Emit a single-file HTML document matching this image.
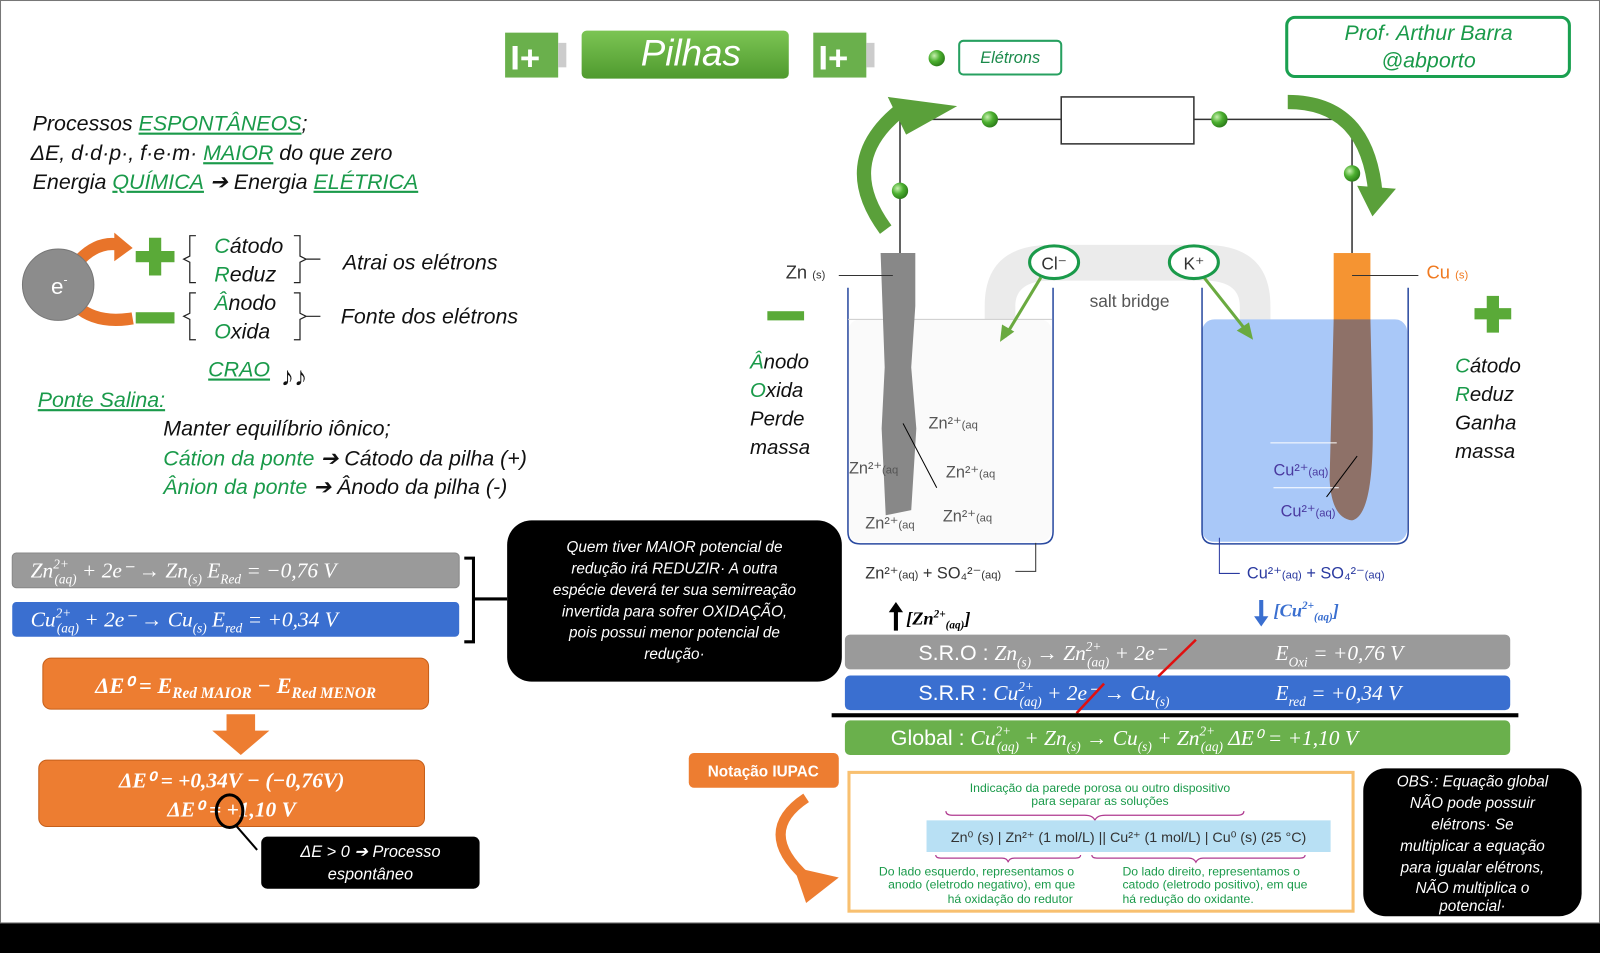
<!DOCTYPE html>
<html><head><meta charset="utf-8"><style>
html,body{margin:0;padding:0;background:#fff}
svg{display:block}
.h{font-family:"Liberation Sans",sans-serif;font-style:italic}
.m{font-family:"Liberation Serif",serif;font-style:italic}
.s{font-family:"Liberation Sans",sans-serif}
</style></head><body>
<svg width="1600" height="953" viewBox="0 0 1568 934" preserveAspectRatio="none" xmlns="http://www.w3.org/2000/svg">
<defs>
<radialGradient id="gd" cx="0.35" cy="0.35" r="0.7"><stop offset="0" stop-color="#c8f0b0"/><stop offset="0.5" stop-color="#4cb030"/><stop offset="1" stop-color="#2a7a18"/></radialGradient>
<linearGradient id="gg" x1="0" y1="0" x2="0" y2="1"><stop offset="0" stop-color="#7cc554"/><stop offset="1" stop-color="#4f9a2e"/></linearGradient>
</defs>
<rect x="0.5" y="0.5" width="1567" height="904" fill="#fff" stroke="#777"/>
<rect x="0" y="905" width="1568" height="29" fill="#000"/>

<g>
<rect x="495" y="32" width="52" height="44" fill="#6ab04c"/><rect x="547" y="42" width="8" height="24" fill="#ccc"/>
<text x="500" y="68" class="s" font-size="34" font-weight="bold" fill="#fff">I+</text>
<rect x="570" y="30" width="203" height="47" rx="5" fill="url(#gg)"/>
<text x="677" y="64" class="h" font-size="36" fill="#fff" text-anchor="middle">Pilhas</text>
<rect x="797" y="32" width="52" height="44" fill="#6ab04c"/><rect x="849" y="42" width="8" height="24" fill="#ccc"/>
<text x="802" y="68" class="s" font-size="34" font-weight="bold" fill="#fff">I+</text>
<circle cx="918" cy="57" r="8" fill="url(#gd)"/>
<rect x="940" y="40" width="100" height="33" rx="4" fill="#fff" stroke="#27a060" stroke-width="2"/>
<text x="990" y="62" class="h" font-size="16" fill="#1a8a4a" text-anchor="middle">Elétrons</text>
<rect x="1261" y="17" width="277" height="58" rx="8" fill="#fff" stroke="#1aa050" stroke-width="3"/>
<text x="1400" y="39" class="h" font-size="21" fill="#1a9a4a" text-anchor="middle">Prof· Arthur Barra</text>
<text x="1400" y="66" class="h" font-size="21" fill="#1a9a4a" text-anchor="middle">@abporto</text>
</g>

<g class="h" font-size="21" fill="#111">
<text x="32" y="128">Processos <tspan fill="#1a9a4a" text-decoration="underline">ESPONTÂNEOS</tspan>;</text>
<text x="30" y="157">ΔE, d·d·p·, f·e·m· <tspan fill="#1a9a4a" text-decoration="underline">MAIOR</tspan> do que zero</text>
<text x="32" y="185">Energia <tspan fill="#1a9a4a" text-decoration="underline">QUÍMICA</tspan> ➔ Energia <tspan fill="#1a9a4a" text-decoration="underline">ELÉTRICA</tspan></text>
</g>
<path d="M75 258 Q95 235 118 240" stroke="#e8742a" stroke-width="12" fill="none"/>
<polygon points="112,228 130,243 112,256" fill="#e8742a"/>
<path d="M75 300 Q95 318 130 312" stroke="#e8742a" stroke-width="12" fill="none"/>
<circle cx="57" cy="279" r="35" fill="#8c8c8c" stroke="#777"/>
<text x="50" y="288" class="s" font-size="22" fill="#fff">e<tspan font-size="12" dy="-10">-</tspan></text>
<rect x="133" y="246" width="38" height="11" fill="#5aaa38"/><rect x="146" y="233" width="12" height="37" fill="#5aaa38"/>
<rect x="133" y="306" width="38" height="11" fill="#5aaa38"/>
<g stroke="#222" fill="none" stroke-width="1.2">
<path d="M192 231 h-6 v20 l-6 3 l6 3 v20 h6"/><path d="M288 231 h6 v20 l6 3 h14 M300 254 l-6 3 v20 h-6"/>
<path d="M192 287 h-6 v20 l-6 3 l6 3 v20 h6"/><path d="M288 287 h6 v20 l6 3 h14 M300 310 l-6 3 v20 h-6"/>
</g>
<g class="h" font-size="21" fill="#111">
<text x="210" y="248"><tspan fill="#1a9a4a">C</tspan>átodo</text>
<text x="210" y="276"><tspan fill="#1a9a4a">R</tspan>eduz</text>
<text x="210" y="304"><tspan fill="#1a9a4a">Â</tspan>nodo</text>
<text x="210" y="332"><tspan fill="#1a9a4a">O</tspan>xida</text>
<text x="336" y="264">Atrai os elétrons</text>
<text x="334" y="317">Fonte dos elétrons</text>
<text x="204" y="369" fill="#1a9a4a" text-decoration="underline">CRAO</text>
<text x="275" y="378" font-style="normal" font-size="26">♪♪</text>
<text x="37" y="399" fill="#1a9a4a" text-decoration="underline">Ponte Salina:</text>
<text x="160" y="427">Manter equilíbrio iônico;</text>
<text x="160" y="456"><tspan fill="#1a9a4a">Cátion da ponte</tspan> ➔ Cátodo da pilha (+)</text>
<text x="160" y="484"><tspan fill="#1a9a4a">Ânion da ponte</tspan> ➔ Ânodo da pilha (-)</text>
</g>

<rect x="12" y="542" width="438" height="34" rx="4" fill="#9a9a9a" stroke="#888"/>
<text x="30" y="566" class="m" font-size="21" fill="#fff">Zn<tspan font-size="13" dy="-9">2+</tspan><tspan font-size="13" dx="-14" dy="15">(aq)</tspan><tspan dy="-6"> + 2e⁻ → Zn</tspan><tspan font-size="13" dy="6">(s)</tspan><tspan dy="-6">   E</tspan><tspan font-size="13" dy="6">Red</tspan><tspan dy="-6"> = −0,76 V</tspan></text>
<rect x="12" y="590" width="438" height="34" rx="4" fill="#3a6fd0"/>
<text x="30" y="614" class="m" font-size="21" fill="#fff">Cu<tspan font-size="13" dy="-9">2+</tspan><tspan font-size="13" dx="-14" dy="15">(aq)</tspan><tspan dy="-6"> + 2e⁻ → Cu</tspan><tspan font-size="13" dy="6">(s)</tspan><tspan dy="-6">   E</tspan><tspan font-size="13" dy="6">red</tspan><tspan dy="-6"> = +0,34 V</tspan></text>
<path d="M455 547 h9 v82 h-9 M464 587 h33" stroke="#000" stroke-width="3" fill="none"/>
<rect x="497" y="510" width="328" height="158" rx="24" fill="#000"/>
<g class="h" font-size="15" fill="#fff" text-anchor="middle">
<text x="661" y="541">Quem tiver MAIOR potencial de</text>
<text x="661" y="562">redução irá REDUZIR· A outra</text>
<text x="661" y="583">espécie deverá ter sua semirreação</text>
<text x="661" y="604">invertida para sofrer OXIDAÇÃO,</text>
<text x="661" y="625">pois possui menor potencial de</text>
<text x="661" y="646">redução·</text>
</g>
<rect x="42" y="645" width="378" height="50" rx="8" fill="#ed7d31" stroke="#c65f1a"/>
<text x="231" y="679" class="m" font-size="22" font-weight="bold" fill="#fff" text-anchor="middle">ΔE⁰ = E<tspan font-size="15" dy="5">Red MAIOR</tspan><tspan dy="-5"> − E</tspan><tspan font-size="15" dy="5">Red MENOR</tspan></text>
<polygon points="222,700 250,700 250,716 264,716 236,740 208,716 222,716" fill="#ed7d31"/>
<rect x="38" y="745" width="378" height="65" rx="8" fill="#ed7d31" stroke="#c65f1a"/>
<text x="227" y="772" class="m" font-size="21" font-weight="bold" fill="#fff" text-anchor="middle">ΔE⁰ =  +0,34V − (−0,76V)</text>
<text x="227" y="800" class="m" font-size="21" font-weight="bold" fill="#fff" text-anchor="middle">ΔE⁰ = +1,10 V</text>
<ellipse cx="225" cy="795" rx="13" ry="16" fill="none" stroke="#000" stroke-width="3"/>
<line x1="232" y1="810" x2="252" y2="833" stroke="#000" stroke-width="2"/>
<rect x="256" y="820" width="214" height="51" rx="6" fill="#000"/>
<text x="363" y="840" class="h" font-size="16" fill="#fff" text-anchor="middle">ΔE &gt; 0 ➔ Processo</text>
<text x="363" y="862" class="h" font-size="16" fill="#fff" text-anchor="middle">espontâneo</text>

<path d="M965 440 V300 Q965 240 1030 240 H1180 Q1245 240 1245 300 V440 H1215 V300 Q1215 275 1180 275 H1030 Q995 275 995 300 V440 Z" fill="#e6e6e6" opacity="0.8"/>
<rect x="831" y="313" width="200" height="218" rx="12" fill="#fafafa"/>
<rect x="1178" y="313" width="201" height="218" rx="12" fill="#a9c8f8"/>
<path d="M831 282 V521 Q831 533 843 533 H1020 Q1032 533 1032 521 V282" fill="none" stroke="#2a4aa0" stroke-width="1.5"/>
<path d="M1178 282 V521 Q1178 533 1190 533 H1368 Q1380 533 1380 521 V282" fill="none" stroke="#2a4aa0" stroke-width="1.5"/>
<line x1="831" y1="313" x2="1031" y2="313" stroke="#ccc"/>
<path d="M863 248 H897 V300 L893 360 L898 420 L893 500 L868 505 L864 420 L867 360 Z" fill="#888"/>
<rect x="1307" y="248" width="36" height="66" fill="#f59432"/>
<path d="M1307 313 H1343 L1345 400 Q1348 505 1325 510 Q1305 508 1303 470 Z" fill="#8e7168"/>
<polyline points="882,248 882,117 1040,117" fill="none" stroke="#333" stroke-width="1.5"/>
<polyline points="1170,117 1325,117 1325,248" fill="none" stroke="#333" stroke-width="1.5"/>
<rect x="1040" y="95" width="130" height="46" fill="#fff" stroke="#333" stroke-width="1.5"/>
<circle cx="970" cy="117" r="8" fill="url(#gd)"/><circle cx="1195" cy="117" r="8" fill="url(#gd)"/>
<circle cx="882" cy="187" r="8" fill="url(#gd)"/><circle cx="1325" cy="170" r="8" fill="url(#gd)"/>
<path d="M868 225 Q820 160 880 110" stroke="#5aa03a" stroke-width="14" fill="none"/>
<polygon points="870,95 938,104 888,132" fill="#5aa03a"/>
<path d="M1262 100 Q1340 100 1348 190" stroke="#5aa03a" stroke-width="14" fill="none"/>
<polygon points="1330,182 1368,185 1345,212" fill="#5aa03a"/>
<line x1="1020" y1="272" x2="985" y2="330" stroke="#6aaa40" stroke-width="3"/><polygon points="980,335 982,318 994,325" fill="#6aaa40"/>
<line x1="1180" y1="272" x2="1222" y2="325" stroke="#6aaa40" stroke-width="3"/><polygon points="1228,333 1212,324 1224,316" fill="#6aaa40"/>
<ellipse cx="1033" cy="257" rx="24" ry="16" fill="#fff" stroke="#1a9a4a" stroke-width="3"/>
<ellipse cx="1170" cy="257" rx="24" ry="16" fill="#fff" stroke="#1a9a4a" stroke-width="3"/>
<text x="1033" y="264" class="s" font-size="17" fill="#333" text-anchor="middle">Cl⁻</text>
<text x="1170" y="264" class="s" font-size="17" fill="#333" text-anchor="middle">K⁺</text>
<text x="1107" y="301" class="s" font-size="17" fill="#555" text-anchor="middle">salt bridge</text>
<text x="770" y="273" class="s" font-size="18" fill="#333">Zn <tspan font-size="11">(s)</tspan></text>
<line x1="822" y1="270" x2="875" y2="270" stroke="#333"/>
<text x="1398" y="273" class="s" font-size="18" fill="#f07a20">Cu <tspan font-size="11">(s)</tspan></text>
<line x1="1325" y1="270" x2="1390" y2="270" stroke="#333"/>
<g class="s" font-size="16" fill="#555">
<text x="910" y="420">Zn²⁺<tspan font-size="11">(aq</tspan></text>
<text x="832" y="464">Zn²⁺<tspan font-size="11">(aq</tspan></text>
<text x="927" y="468">Zn²⁺<tspan font-size="11">(aq</tspan></text>
<text x="848" y="518">Zn²⁺<tspan font-size="11">(aq</tspan></text>
<text x="924" y="511">Zn²⁺<tspan font-size="11">(aq</tspan></text>
</g>
<g class="s" font-size="16" fill="#4a3aa0">
<text x="1248" y="466">Cu²⁺<tspan font-size="11">(aq)</tspan></text>
<text x="1255" y="506">Cu²⁺<tspan font-size="11">(aq)</tspan></text>
</g>
<line x1="1245" y1="434" x2="1310" y2="434" stroke="#fff"/>
<line x1="1248" y1="478" x2="1312" y2="478" stroke="#fff"/>
<line x1="885" y1="415" x2="918" y2="478" stroke="#000"/><line x1="1300" y1="487" x2="1330" y2="447" stroke="#000"/>
<text x="848" y="567" class="s" font-size="16" fill="#333">Zn²⁺<tspan font-size="11">(aq)</tspan> + SO₄²⁻<tspan font-size="11">(aq)</tspan></text>
<polyline points="995,560 1015,560 1015,532" fill="none" stroke="#333"/>
<text x="1222" y="567" class="s" font-size="16" fill="#2a3aa0">Cu²⁺<tspan font-size="11">(aq)</tspan> + SO₄²⁻<tspan font-size="11">(aq)</tspan></text>
<polyline points="1195,527 1195,562 1215,562" fill="none" stroke="#2a3aa0"/>
<rect x="752" y="305" width="36" height="9" fill="#5aaa38"/>
<rect x="1445" y="302" width="36" height="11" fill="#5aaa38"/><rect x="1457" y="290" width="12" height="36" fill="#5aaa38"/>
<g class="h" font-size="20" fill="#111">
<text x="735" y="361"><tspan fill="#1a9a4a">Â</tspan>nodo</text>
<text x="735" y="389"><tspan fill="#1a9a4a">O</tspan>xida</text>
<text x="735" y="417">Perde</text><text x="735" y="445">massa</text>
<text x="1426" y="365"><tspan fill="#1a9a4a">C</tspan>átodo</text>
<text x="1426" y="393"><tspan fill="#1a9a4a">R</tspan>eduz</text>
<text x="1426" y="421">Ganha</text><text x="1426" y="449">massa</text>
</g>
<polygon points="876,618 880,618 880,600 885,600 878,590 871,600 876,600" fill="#000"/>
<text x="888" y="612" class="m" font-size="18" font-weight="bold" fill="#000">[Zn<tspan font-size="11" dy="-7">2+</tspan><tspan font-size="11" dy="11">(aq)</tspan><tspan dy="-4">]</tspan></text>
<polygon points="1234,588 1238,588 1238,604 1243,604 1236,614 1229,604 1234,604" fill="#3a6fd0"/>
<text x="1248" y="604" class="m" font-size="18" font-weight="bold" fill="#3a6fd0">[Cu<tspan font-size="11" dy="-7">2+</tspan><tspan font-size="11" dy="11">(aq)</tspan><tspan dy="-4">]</tspan></text>

<rect x="828" y="622" width="652" height="34" rx="5" fill="#9a9a9a"/>
<text x="900" y="647" font-size="21" fill="#fff"><tspan class="s">S.R.O : </tspan><tspan class="m">Zn</tspan><tspan class="m" font-size="13" dy="6">(s)</tspan><tspan class="m" dy="-6"> → Zn</tspan><tspan class="m" font-size="13" dy="-9">2+</tspan><tspan class="m" font-size="13" dx="-14" dy="15">(aq)</tspan><tspan class="m" dy="-6"> + 2e⁻</tspan></text>
<text x="1250" y="647" class="m" font-size="21" fill="#fff">E<tspan font-size="13" dy="6">Oxi</tspan><tspan dy="-6"> = +0,76 V</tspan></text>
<rect x="828" y="662" width="652" height="34" rx="5" fill="#3a6fd0"/>
<text x="900" y="686" font-size="21" fill="#fff"><tspan class="s">S.R.R : </tspan><tspan class="m">Cu</tspan><tspan class="m" font-size="13" dy="-9">2+</tspan><tspan class="m" font-size="13" dx="-14" dy="15">(aq)</tspan><tspan class="m" dy="-6"> + 2e⁻ → Cu</tspan><tspan class="m" font-size="13" dy="6">(s)</tspan></text>
<text x="1250" y="686" class="m" font-size="21" fill="#fff">E<tspan font-size="13" dy="6">red</tspan><tspan dy="-6"> = +0,34 V</tspan></text>
<line x1="1055" y1="699" x2="1082" y2="670" stroke="#e01010" stroke-width="2.5"/>
<line x1="1135" y1="663" x2="1172" y2="627" stroke="#e01010" stroke-width="2.5"/>
<rect x="815" y="699" width="673" height="4" fill="#000"/>
<rect x="828" y="706" width="652" height="34" rx="5" fill="#6ab04c"/>
<text x="873" y="730" font-size="21" fill="#fff"><tspan class="s">Global : </tspan><tspan class="m">Cu</tspan><tspan class="m" font-size="13" dy="-9">2+</tspan><tspan class="m" font-size="13" dx="-14" dy="15">(aq)</tspan><tspan class="m" dy="-6"> + Zn</tspan><tspan class="m" font-size="13" dy="6">(s)</tspan><tspan class="m" dy="-6"> → Cu</tspan><tspan class="m" font-size="13" dy="6">(s)</tspan><tspan class="m" dy="-6"> + Zn</tspan><tspan class="m" font-size="13" dy="-9">2+</tspan><tspan class="m" font-size="13" dx="-14" dy="15">(aq)</tspan><tspan class="m" dy="-6">  ΔE⁰ = +1,10 V</tspan></text>

<rect x="675" y="738" width="147" height="34" rx="5" fill="#ed7d31"/>
<text x="748" y="761" class="s" font-size="15" font-weight="bold" fill="#fff" text-anchor="middle">Notação IUPAC</text>
<path d="M790 782 Q740 815 790 860" stroke="#ed7d31" stroke-width="10" fill="none"/>
<polygon points="778,850 822,860 790,885" fill="#ed7d31"/>
<rect x="832" y="757" width="494" height="136" fill="#fff" stroke="#f8c070" stroke-width="3"/>
<g class="s" font-size="12" fill="#1a9a4a" text-anchor="middle">
<text x="1078" y="776">Indicação da parede porosa ou outro dispositivo</text>
<text x="1078" y="789">para separar as soluções</text>
<text x="957" y="858">Do lado esquerdo, representamos o</text>
<text x="962" y="871">anodo (eletrodo negativo), em que</text>
<text x="990" y="885">há oxidação do redutor</text>
</g>
<g class="s" font-size="12" fill="#1a9a4a">
<text x="1100" y="858">Do lado direito, representamos o</text>
<text x="1100" y="871">catodo (eletrodo positivo), em que</text>
<text x="1100" y="885">há redução do oxidante.</text>
</g>
<path d="M927 795 q0 4 6 4 h130 q8 0 10 5 q2 -5 10 -5 h130 q6 0 6 -4" fill="none" stroke="#b03a90" stroke-width="1.2"/>
<rect x="908" y="804" width="396" height="31" fill="#b8e0f4"/>
<text x="1106" y="825" class="s" font-size="14" fill="#333" text-anchor="middle">Zn⁰ (s) | Zn²⁺ (1 mol/L) || Cu²⁺ (1 mol/L) | Cu⁰ (s) (25 °C)</text>
<path d="M917 838 q0 3 5 3 h60 q5 0 6 4 q1 -4 6 -4 h60 q5 0 5 -3" fill="none" stroke="#b03a90" stroke-width="1.2"/>
<path d="M1070 838 q0 3 5 3 h90 q5 0 7 4 q2 -4 7 -4 h95 q5 0 5 -3" fill="none" stroke="#b03a90" stroke-width="1.2"/>
<rect x="1336" y="753" width="214" height="145" rx="22" fill="#000"/>
<g class="h" font-size="15" fill="#fff" text-anchor="middle">
<text x="1443" y="771">OBS·: Equação global</text>
<text x="1443" y="792">NÃO pode possuir</text>
<text x="1443" y="813">elétrons· Se</text>
<text x="1443" y="834">multiplicar a equação</text>
<text x="1443" y="855">para igualar elétrons,</text>
<text x="1443" y="875">NÃO multiplica o</text>
<text x="1443" y="893">potencial·</text>
</g>
</svg>
</body></html>
